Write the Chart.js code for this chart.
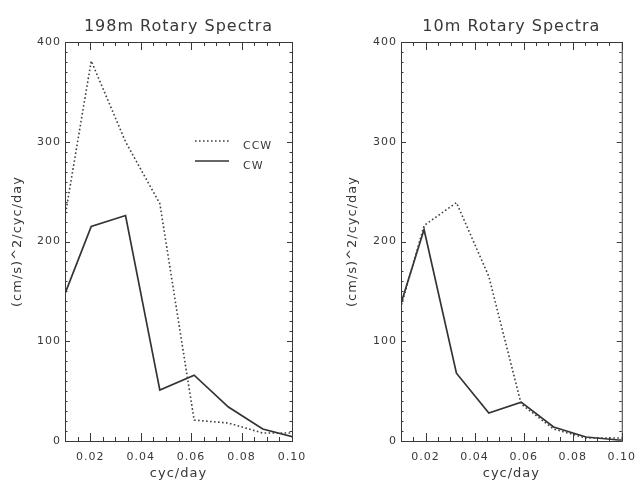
<!DOCTYPE html>
<html>
<head>
<meta charset="utf-8">
<script src="https://cdn.jsdelivr.net/npm/chart.js@4.4.1/dist/chart.umd.min.js"></script>
<style>
  html, body { margin: 0; padding: 0; background: #fff; }
  #wrap { display: flex; width: 644px; height: 480px; }
  canvas { display: block; }
</style>
</head>
<body>
<div id="wrap">
  <canvas id="chart-198" width="322" height="480"></canvas>
  <canvas id="chart-10" width="322" height="480"></canvas>
</div>
<script>
// Spectral estimates (first/last points fall outside the axis range and get clipped)
const freq198 = [0.0068, 0.0204, 0.0340, 0.0476, 0.0612, 0.0748, 0.0884, 0.1020];
const ccw198 = [177, 381, 300, 238, 21, 18, 8, 8];
const cw198 = [127, 215, 226, 51, 66, 34, 12, 3];

const freq10 = [0.0062, 0.0194, 0.0326, 0.0458, 0.0590, 0.0722, 0.0854, 0.0986, 0.1118];
const ccw10 = [102, 216, 239, 165, 37, 12, 3, 3, 3];
const cw10 = [108, 212, 68, 28, 39, 14, 4, 1, 1];

// Axis ticks
const xTicks = [0.02, 0.04, 0.06, 0.08, 0.10];
const yTicks = [0, 100, 200, 300, 400];

const INK = '#383838';

Chart.defaults.font.family = 'DejaVu Sans';
Chart.defaults.color = INK;

// IDL-style decorations: boxed axes with inward ticks, centred title, inline legend
const idlDecor = {
    id: 'idlDecor',
    beforeDraw(chart) {
        chart.ctx.letterSpacing = '1px';
    },
    afterDraw(chart, args, opts) {
        const { ctx, chartArea: a, scales: { x, y } } = chart;
        ctx.save();
        ctx.strokeStyle = INK;
        ctx.lineWidth = 1;
        ctx.strokeRect(a.left + 0.5, a.top + 0.5, a.width, a.height);

        ctx.beginPath();
        // x ticks every 0.005, major every 0.02
        for (let i = 0; i <= 18; i++) {
            const v = 0.01 + i * 0.005;
            const major = Math.abs(v / 0.02 - Math.round(v / 0.02)) < 1e-6;
            const len = major ? 8 : 4;
            const px = Math.round(x.getPixelForValue(v)) + 0.5;
            ctx.moveTo(px, a.bottom);
            ctx.lineTo(px, a.bottom - len);
            ctx.moveTo(px, a.top);
            ctx.lineTo(px, a.top + len);
        }
        // y ticks every 10, major every 100
        for (let v = 0; v <= 400; v += 10) {
            const len = v % 100 === 0 ? 5 : 2.5;
            const py = Math.round(y.getPixelForValue(v)) + 0.5;
            ctx.moveTo(a.left, py);
            ctx.lineTo(a.left + len, py);
            ctx.moveTo(a.right, py);
            ctx.lineTo(a.right - len, py);
        }
        ctx.stroke();

        // title
        ctx.fillStyle = INK;
        ctx.font = '16px "DejaVu Sans"';
        ctx.textAlign = 'center';
        ctx.textBaseline = 'middle';
        ctx.fillText(opts.title, (a.left + a.right) / 2, 27);

        if (opts.legend) {
            ctx.font = '11px "DejaVu Sans"';
            ctx.textAlign = 'left';
            chart.data.datasets.forEach((ds, i) => {
                const ly = a.top + 99 + i * 20;
                ctx.beginPath();
                ctx.strokeStyle = ds.borderColor;
                ctx.lineWidth = ds.borderWidth;
                ctx.setLineDash(ds.borderDash || []);
                ctx.moveTo(a.left + 130, ly);
                ctx.lineTo(a.left + 164, ly);
                ctx.stroke();
                ctx.fillText(ds.label, a.left + 178, ly + 5);
            });
        }
        ctx.restore();
    }
};

function makeChart(id, title, freq, ccw, cw, yWidth, yTitlePad, padRight, legend) {
    const ctx = document.getElementById(id);
    return new Chart(ctx, {
        type: 'line',
        data: {
            datasets: [
                {
                    label: 'CCW',
                    data: freq.map((f, i) => ({ x: f, y: ccw[i] })),
                    borderColor: '#404040',
                    borderWidth: 1.6,
                    borderDash: [1.6, 2.4],
                    pointRadius: 0,
                    tension: 0
                },
                {
                    label: 'CW',
                    data: freq.map((f, i) => ({ x: f, y: cw[i] })),
                    borderColor: '#333333',
                    borderWidth: 1.7,
                    pointRadius: 0,
                    tension: 0
                }
            ]
        },
        options: {
            responsive: false,
            animation: false,
            layout: { padding: { top: 42, right: padRight, left: 0, bottom: 0 } },
            plugins: {
                legend: { display: false },
                tooltip: { enabled: false },
                idlDecor: { title: title, legend: legend }
            },
            scales: {
                x: {
                    type: 'linear',
                    min: 0.01,
                    max: 0.10,
                    grid: { display: false, drawTicks: false },
                    border: { display: false },
                    afterBuildTicks: s => { s.ticks = xTicks.map(v => ({ value: v })); },
                    afterFit: s => { s.height = 39; },
                    ticks: {
                        padding: 10,
                        maxRotation: 0,
                        autoSkip: false,
                        font: { size: 11 },
                        callback: v => v.toFixed(2)
                    },
                    title: {
                        display: true,
                        text: 'cyc/day',
                        font: { size: 13, lineHeight: 1 },
                        padding: { top: 0, bottom: 0 }
                    }
                },
                y: {
                    type: 'linear',
                    min: 0,
                    max: 400,
                    grid: { display: false, drawTicks: false },
                    border: { display: false },
                    afterBuildTicks: s => { s.ticks = yTicks.map(v => ({ value: v })); },
                    afterFit: s => { s.width = yWidth; },
                    ticks: {
                        padding: 4,
                        font: { size: 11 },
                        callback: v => String(v)
                    },
                    title: {
                        display: true,
                        text: '(cm/s)^2/cyc/day',
                        font: { size: 13, lineHeight: 1 },
                        padding: { top: yTitlePad, bottom: 0 }
                    }
                }
            }
        },
        plugins: [idlDecor]
    });
}

makeChart('chart-198', '198m Rotary Spectra', freq198, ccw198, cw198, 65, 11, 30, true);
makeChart('chart-10', '10m Rotary Spectra', freq10, ccw10, cw10, 79, 24, 16, false);
</script>
</body>
</html>
